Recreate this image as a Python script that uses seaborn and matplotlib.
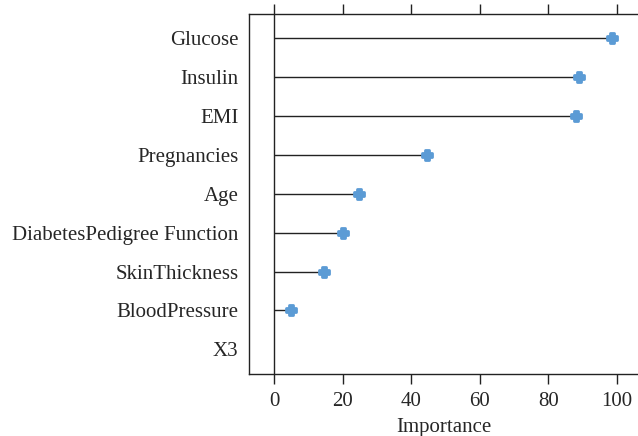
import matplotlib
matplotlib.use("Agg")
import matplotlib.pyplot as plt
import seaborn as sns
import pandas as pd

features = ["Glucose", "Insulin", "EMI", "Pregnancies", "Age",
            "DiabetesPedigree Function", "SkinThickness", "BloodPressure", "X3"]
importance = [98.6, 88.9, 88.0, 44.6, 24.7, 20.0, 14.6, 4.9, 0.0]
xticks = [0, 20, 40, 60, 80, 100]

df = pd.DataFrame({"feature": features, "importance": importance})

sns.set_style("white")
plt.rcParams["font.family"] = ["Liberation Serif", "DejaVu Serif"]

fig = plt.figure(figsize=(6.38, 4.36), dpi=100)
ax = fig.add_axes([249 / 638, 1 - 373.5 / 436, 1 - 249 / 638, (373.5 - 14) / 436])

ypos = list(range(len(features)))
ax.hlines(ypos, 0, df["importance"], color="#222222", linewidth=1.0, zorder=2)
ax.axvline(0, color="#222222", linewidth=1.0, zorder=2)

pts = df[df["importance"] > 0]
sns.scatterplot(data=pts, x="importance", y="feature", ax=ax, marker="P",
                s=50, color="#5b9bd5", edgecolor="#5b9bd5", linewidth=2.0, zorder=3)

ax.set_yticks(ypos)
ax.set_yticklabels(features)
ax.set_ylim(len(features) - 1 + 0.62, -0.62)
ax.set_xlim(-7.3, 106.2)
ax.set_xticks(xticks)

fs = 15
ax.set_xlabel("Importance", fontsize=fs, labelpad=5)
ax.set_ylabel("")

for side in ["left", "top", "bottom"]:
    ax.spines[side].set_visible(True)
    ax.spines[side].set_color("#222222")
    ax.spines[side].set_linewidth(1.0)
ax.spines["right"].set_visible(False)

ax.tick_params(axis="x", which="both", top=True, bottom=True, labeltop=False,
               direction="out", length=7, width=1, color="#222222",
               labelsize=fs, pad=6)
ax.tick_params(axis="y", left=False, labelsize=fs, pad=4)

fig.savefig("out.png", dpi=100)
